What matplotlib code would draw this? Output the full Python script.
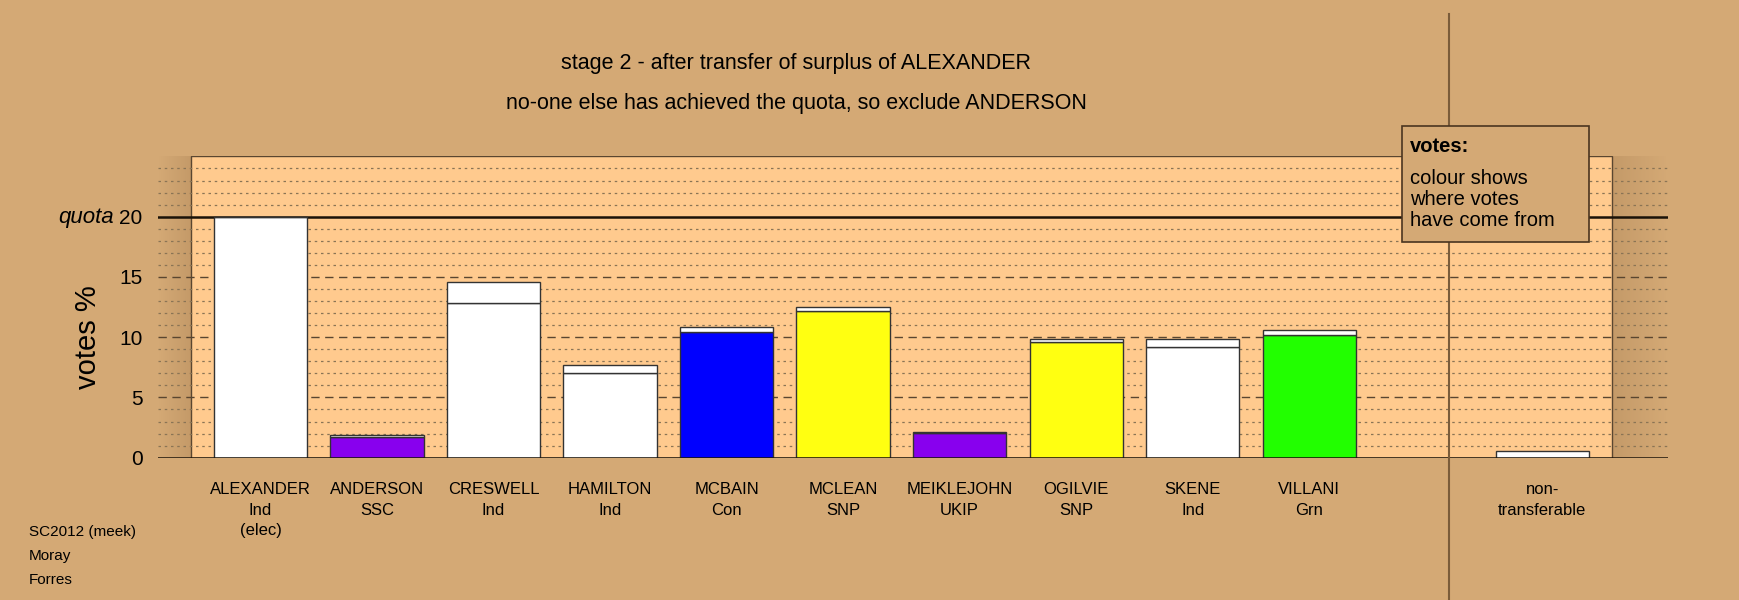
import matplotlib
matplotlib.use("Agg")
import matplotlib.pyplot as plt
import numpy as np
from matplotlib.patches import Rectangle
from matplotlib.lines import Line2D

plt.rcParams['font.family'] = ['Liberation Sans', 'DejaVu Sans']

# ---- data ----
candidates = ["ALEXANDER", "ANDERSON", "CRESWELL", "HAMILTON", "MCBAIN",
              "MCLEAN", "MEIKLEJOHN", "OGILVIE", "SKENE", "VILLANI"]
parties = ["Ind", "SSC", "Ind", "Ind", "Con", "SNP", "UKIP", "SNP", "Ind", "Grn"]
notes = ["(elec)", "", "", "", "", "", "", "", "", ""]
base_votes = [20.0, 1.75, 12.85, 7.0, 10.4, 12.17, 2.02, 9.57, 9.16, 10.16]
transfer_votes = [0.0, 0.15, 1.70, 0.69, 0.42, 0.31, 0.14, 0.25, 0.72, 0.46]
base_colors = ["#FFFFFF", "#8800EE", "#FFFFFF", "#FFFFFF", "#0000FF",
               "#FFFF11", "#8800EE", "#FFFF11", "#FFFFFF", "#22FF00"]
transfer_color = "#FFFFFF"
nontransferable = 0.58
quota = 20
yticks = [0, 5, 10, 15, 20]
title1 = "stage 2 - after transfer of surplus of ALEXANDER"
title2 = "no-one else has achieved the quota, so exclude ANDERSON"

BG = "#D4A975"
PANEL = "#FFCA8E"

W, H = 1740, 600
fig = plt.figure(figsize=(W / 100, H / 100), dpi=100, facecolor=BG)

def fx(px):
    return px / W

def fy(py):
    return 1 - py / H

ax_left, ax_right, ax_bottom, ax_top = 158, 1668, 457.7, 156.4
ax = fig.add_axes([fx(ax_left), fy(ax_bottom), fx(ax_right - ax_left), (ax_bottom - ax_top) / H])
ax.set_facecolor("none")
ax.patch.set_alpha(0)
for s in ax.spines.values():
    s.set_visible(False)

xmin, xmax = -0.88, 12.08
ax.set_xlim(xmin, xmax)
ax.set_ylim(0, 25)

# panel
ax.add_patch(Rectangle((-0.6, 0), 12.2, 25, facecolor=PANEL, edgecolor="#5a4630",
                       linewidth=1.0, zorder=0.5))
# shading outside panel
grad = np.linspace(0, 1, 100).reshape(1, -1)
from matplotlib.colors import LinearSegmentedColormap
cm_r = LinearSegmentedColormap.from_list("s", [(0.45, 0.3, 0.15, 0.16), (0.45, 0.3, 0.15, 0.0)])
ax.imshow(grad, extent=(11.6, xmax, 0, 25), aspect="auto", cmap=cm_r, zorder=0.4)
ax.imshow(grad[:, ::-1], extent=(xmin, -0.6, 0, 25), aspect="auto", cmap=cm_r, zorder=0.4)

# gridlines
for v in range(1, 25):
    if v == quota:
        continue
    if v % 5 == 0:
        ax.axhline(v, color="#5a4630", lw=1.0, ls=(0, (6, 4)), zorder=1)
    else:
        ax.axhline(v, color="#8a7455", lw=0.9, ls=(0, (2, 3)), zorder=1)
ax.axhline(quota, color="#1a1208", lw=1.8, zorder=1.2)
ax.axhline(0, color="#1a1208", lw=1.8, zorder=3)

# bars
x = np.arange(len(candidates))
ax.bar(x, base_votes, width=0.8, color=base_colors, edgecolor="#333333", linewidth=1.0, zorder=2)
ax.bar(x, transfer_votes, bottom=base_votes, width=0.8, color=transfer_color,
       edgecolor="#333333", linewidth=1.0, zorder=2)
nt_x = len(candidates) + 1
ax.bar([nt_x], [nontransferable], width=0.8, color="#FFFFFF", edgecolor="#333333",
       linewidth=1.0, zorder=2)

ax.set_xticks([])
ax.set_yticks(yticks)
ax.set_yticklabels([str(t) for t in yticks], fontsize=15)
ax.tick_params(axis="y", length=0, pad=11)

# candidate labels
def axy(py):
    return (ax_bottom - py) / (ax_bottom - ax_top)

trans = ax.get_xaxis_transform()
for i, (c, p, n) in enumerate(zip(candidates, parties, notes)):
    for j, line in enumerate([c, p, n]):
        if line:
            ax.text(i, axy(490 + 20.3 * j), line, transform=trans, ha="center",
                    va="center", fontsize=12, clip_on=False)
for j, line in enumerate(["non-", "transferable"]):
    ax.text(nt_x, axy(490 + 20.3 * j), line, transform=trans, ha="center",
            va="center", fontsize=12, clip_on=False)

# titles
fig.text(fx(796), fy(63), title1, ha="center", va="center", fontsize=15.5)
fig.text(fx(796), fy(104), title2, ha="center", va="center", fontsize=15.5)

# y label
fig.text(fx(88), fy(337), "votes %", rotation=90, ha="center", va="center", fontsize=21)
fig.text(fx(114), fy(217), "quota", ha="right", va="center", fontsize=16, style="italic")

# vertical separator
fig.add_artist(Line2D([fx(1449), fx(1449)], [fy(14), fy(600)], color="#7a5c3a",
                      lw=1.5, transform=fig.transFigure, zorder=5))

# legend box
fig.add_artist(Rectangle((fx(1402), fy(242)), fx(1589 - 1402), (242 - 126) / H,
                         transform=fig.transFigure, facecolor=BG, edgecolor="#4a3520",
                         lw=1.2, zorder=10))
fig.text(fx(1410), fy(146), "votes:", fontsize=14.5, fontweight="bold", va="center", zorder=11)
for k, line in enumerate(["colour shows", "where votes", "have come from"]):
    fig.text(fx(1410), fy(178.3 + 20.9 * k), line, fontsize=14.5, va="center", zorder=11)

# footer
for k, line in enumerate(["SC2012 (meek)", "Moray", "Forres"]):
    fig.text(fx(29), fy(532 + 24 * k), line, fontsize=11, va="center")

fig.savefig("out.png", dpi=100, facecolor=BG)
